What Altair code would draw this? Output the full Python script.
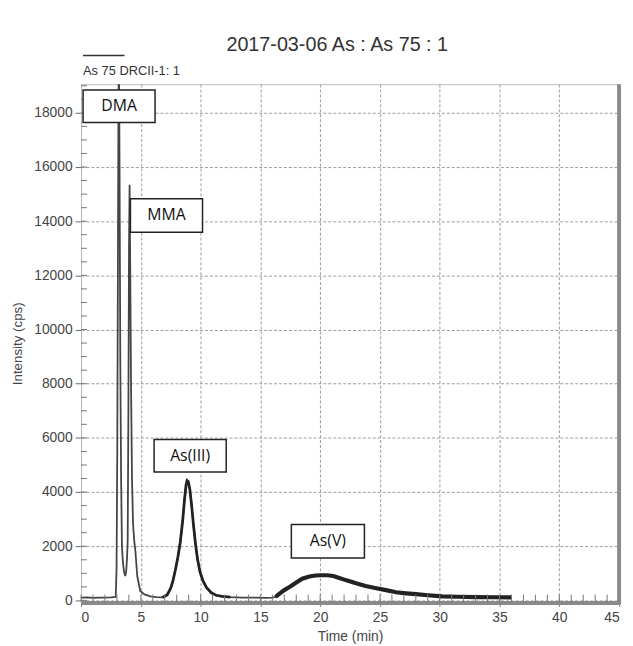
import altair as alt
import pandas as pd

# ---- chromatogram trace ----
time_min = [0, 0.5, 1.0, 1.5, 2.0, 2.5, 2.9, 2.97, 3.03, 3.08, 3.13, 3.17, 3.22, 3.28,
            3.35, 3.42, 3.5, 3.6, 3.7, 3.78, 3.85, 3.9, 3.96, 4.01, 4.06, 4.11, 4.18,
            4.26, 4.35, 4.45, 4.55, 4.7, 4.95, 5.3, 5.8, 6.3, 6.8, 7.2, 7.5, 7.7, 7.9,
            8.1, 8.3, 8.5, 8.65, 8.78, 8.87, 8.97, 9.1, 9.25, 9.4, 9.58, 9.75, 9.95,
            10.2, 10.5, 10.9, 11.3, 11.8, 12.5, 13.5, 14.5, 15.5, 16.0, 16.27, 16.6,
            17.0, 17.5, 18.0, 18.5, 19.1, 19.6, 20.1, 20.6, 21.1, 21.6, 22.2, 23.0,
            23.8, 24.7, 25.5, 26.35, 27.2, 28.0, 29.0, 30.2, 31.5, 33.0, 34.5, 36.0]
intensity_cps = [100, 110, 95, 105, 100, 110, 130, 1200, 5500, 12000, 18500, 20500, 16000,
                 9000, 4500, 2000, 1400, 1050, 900, 1100, 1600, 2200, 7000, 13000, 15350,
                 12500, 8000, 4500, 2800, 2200, 1800, 900, 350, 220, 150, 120, 110, 200,
                 450, 750, 1150, 1600, 2150, 2950, 3700, 4250, 4420, 4380, 4100, 3500,
                 2800, 2050, 1500, 1050, 720, 470, 280, 190, 150, 120, 100, 100, 95, 100,
                 130, 250, 380, 510, 660, 800, 880, 920, 930, 930, 900, 830, 740, 630,
                 530, 450, 380, 300, 260, 230, 190, 150, 135, 120, 115, 110]

series_name = "As 75 DRCII-1: 1"
chart_title = "2017-03-06 As : As 75 : 1"

# ---- peak annotation boxes (data coordinates) ----
peak_labels = ["DMA", "MMA", "As(III)", "As(V)"]
box_t0 = [0.17, 4.13, 6.11, 17.59]
box_t1 = [6.19, 10.16, 12.14, 23.70]
box_i0 = [17640, 13590, 4737, 1567]
box_i1 = [18840, 14830, 5940, 2806]

# ---- ticks ----
x_ticks = list(range(0, 46, 5))
y_ticks = list(range(0, 18001, 2000))
x_minor = list(range(0, 46))
y_minor = list(range(0, 19001, 500))

W, H = 545, 525
FONT = "Liberation Sans"

trace = pd.DataFrame({"t": time_min, "i": intensity_cps})
boxes = pd.DataFrame({"label": peak_labels, "t0": box_t0, "t1": box_t1,
                      "i0": box_i0, "i1": box_i1})

xs = alt.Scale(domain=[0, 45], nice=False, zero=False)
ys = alt.Scale(domain=[-75, 19060], nice=False, zero=False)

x_axis = alt.Axis(
    values=x_ticks, format="d", grid=True, gridDash=[3, 2],
    gridColor="#9a9a9a", gridWidth=1, tickSize=4, tickColor="#777",
    domainWidth=4, domainColor="#8a8a8a", labelFontSize=14, titleFontSize=14,
    labelPadding=4, titlePadding=6, labelColor="#444", titleColor="#444",
    titleFontWeight="normal", labelFont=FONT, titleFont=FONT)
y_axis = alt.Axis(
    values=y_ticks, format="d", grid=True, gridDash=[3, 2],
    gridColor="#9a9a9a", gridWidth=1, tickSize=6, tickColor="#666",
    domainColor="#bbbbbb", labelFontSize=14, titleFontSize=13.5,
    labelPadding=3, titlePadding=9, labelColor="#444", titleColor="#444",
    titleFontWeight="normal", labelFont=FONT, titleFont=FONT)
XT = "Time (min)"
YT = "Intensity (cps)"


def X(field):
    return alt.X(field, scale=xs, axis=x_axis, title=XT)


def Y(field):
    return alt.Y(field, scale=ys, axis=y_axis, title=YT)


line = alt.Chart(trace).mark_line(color="#444", strokeWidth=1.8, clip=True).encode(
    x=X("t:Q"), y=Y("i:Q"))

mid = alt.Chart(trace).transform_filter("datum.t >= 6.8 && datum.t <= 12.5").mark_line(
    color="#222", strokeWidth=2.8, clip=True).encode(x=X("t:Q"), y=Y("i:Q"))
late = alt.Chart(trace).transform_filter("datum.t >= 16.27").mark_line(
    color="#222", strokeWidth=4.2, clip=True).encode(x=X("t:Q"), y=Y("i:Q"))

ymin = alt.Chart(pd.DataFrame({"v": y_minor})).mark_rule(color="#777").encode(
    y=Y("v:Q"), x=alt.value(0), x2=alt.value(6))
xmin = alt.Chart(pd.DataFrame({"v": x_minor})).mark_rule(color="#777").encode(
    x=X("v:Q"), y=alt.value(H), y2=alt.value(H - 8))

right_border = alt.Chart(pd.DataFrame({"a": [0]})).mark_rule(
    color="#8a8a8a", strokeWidth=4).encode(
    x=alt.value(W), y=alt.value(0), y2=alt.value(H + 2))

rects = alt.Chart(boxes).mark_rect(fill="white", stroke="#222", strokeWidth=1.5).encode(
    x=X("t0:Q"), x2="t1:Q", y=Y("i0:Q"), y2="i1:Q")
labels = alt.Chart(boxes).transform_calculate(
    tc="(datum.t0 + datum.t1) / 2", ic="(datum.i0 + datum.i1) / 2"
).mark_text(font="Open Sans", fontSize=16, color="#111", baseline="middle").encode(
    x=X("tc:Q"), y=Y("ic:Q"), text="label:N")

leg_df = pd.DataFrame({"label": [series_name]})
leg_line = alt.Chart(leg_df).mark_rule(color="#333", strokeWidth=1.5).encode(
    x=alt.value(2), x2=alt.value(44), y=alt.value(-29))
leg_text = alt.Chart(leg_df).mark_text(
    align="left", baseline="middle", font=FONT, fontSize=13, color="#333").encode(
    x=alt.value(2), y=alt.value(-13), text="label:N")

chart = alt.layer(
    line, mid, late, ymin, xmin, right_border, rects, labels, leg_line, leg_text
).properties(
    width=W, height=H,
    title=alt.Title(chart_title, fontSize=20, font=FONT, fontWeight="normal",
                    color="#333", anchor="middle", dx=-13, offset=0),
    autosize=alt.AutoSizeParams(type="none"),
    padding={"left": 74, "top": 73, "right": 6, "bottom": 40},
).configure_view(stroke="#bbbbbb", strokeWidth=1)

chart.save("out.html", embed_options={"renderer": "svg", "actions": False})
